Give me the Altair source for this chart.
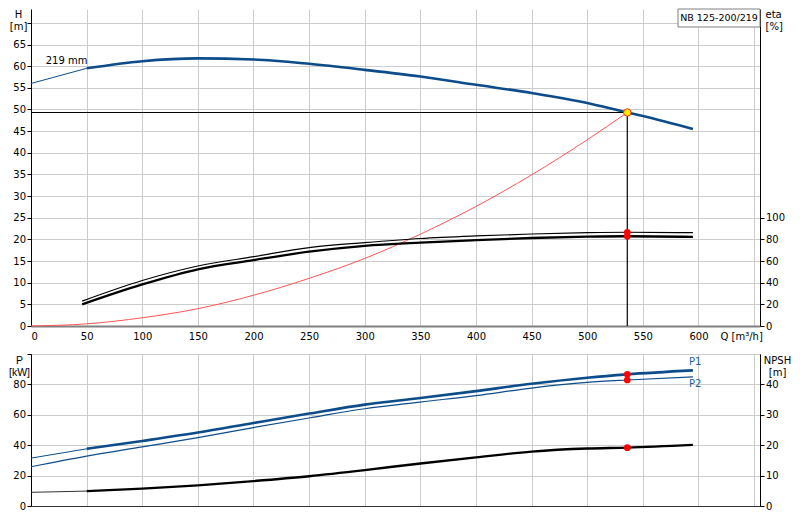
import altair as alt
import pandas as pd

# ---------------- data ----------------
Q_H = [0, 50, 100, 150, 200, 250, 300, 350, 400, 450, 500, 536, 550, 595]
H_VALS = [56.0, 59.5, 61.15, 61.8, 61.55, 60.55, 59.15, 57.6, 55.7, 53.8, 51.5, 49.3, 48.5, 45.5]

Q_SYS = [0, 50, 100, 150, 200, 250, 300, 350, 400, 450, 500, 536]
H_SYS = [0, 0.5, 1.9, 4.0, 7.1, 11.0, 15.6, 21.2, 27.6, 34.9, 43.0, 49.3]

Q_ETA = [46, 100, 150, 200, 250, 300, 350, 400, 450, 500, 536, 595]
ETA_1 = [23.0, 42.0, 55.4, 64.0, 72.4, 77.0, 80.8, 83.2, 85.0, 86.2, 86.6, 86.2]
ETA_2 = [20.0, 38.4, 52.4, 60.8, 68.6, 74.0, 77.0, 79.3, 81.3, 82.5, 82.9, 82.3]

Q_P = [0, 50, 100, 150, 200, 250, 300, 350, 400, 450, 500, 536, 595]
P1 = [31.5, 37.6, 42.8, 48.3, 54.6, 60.8, 66.7, 71.0, 75.6, 80.4, 84.4, 86.6, 89.2]
P2 = [25.8, 32.8, 38.9, 45.0, 51.6, 57.9, 64.0, 68.4, 72.6, 77.6, 81.3, 82.9, 85.0]
NPSH = [4.5, 4.9, 5.7, 6.8, 8.2, 9.8, 11.8, 14.0, 16.0, 17.9, 18.9, 19.2, 20.1]

Q_OP = 536
H_OP = 49.3
ETA_OP = [86.6, 82.9]
P_OP = [86.6, 82.9]
NPSH_OP = 19.2

P_LABELS = ["P1", "P2"]
P_LABEL_Q = [597, 597]
P_LABEL_P = [95.0, 80.5]

CURVE_LABEL = "219 mm"
CURVE_LABEL_Q = 32
CURVE_LABEL_H = 61.3
PUMP_LABEL = "NB 125-200/219"

Q_TICKS = list(range(0, 651, 50))
H_TICKS = list(range(0, 71, 5))
ETA_TICKS = [0, 20, 40, 60, 80, 100]
P_TICKS = [0, 20, 40, 60, 80, 100]
NPSH_TICKS = [0, 10, 20, 30, 40]

Q_DOMAIN = [0, 655.3]
H_DOMAIN = [0, 73.2]
ETA_DOMAIN = [0, 292.8]
P_DOMAIN = [0, 100]
NPSH_DOMAIN = [0, 50]

# ---------------- style ----------------
FONT = "DejaVu Sans"
NARROW = "Liberation Sans"
FS = 10
BLUE = "#0d4c8b"
LBLUE = "#1f5fa0"
GRID = "#cccccc"
W = 729
H_TOP = 317
H_BOT = 152

df_h = pd.DataFrame({"Q": Q_H, "H": H_VALS})
df_sys = pd.DataFrame({"Q": Q_SYS, "H": H_SYS})
df_op = pd.DataFrame({"Q": [Q_OP], "H": [H_OP], "Q0": [0], "H0": [0]})
df_lab = pd.DataFrame({"Q": [CURVE_LABEL_Q], "H": [CURVE_LABEL_H], "t": [CURVE_LABEL]})
df_box = pd.DataFrame({"t": [PUMP_LABEL]})
df_e1 = pd.DataFrame({"Q": Q_ETA, "eta": ETA_1})
df_e2 = pd.DataFrame({"Q": Q_ETA, "eta": ETA_2})
df_eop = pd.DataFrame({"Q": [Q_OP] * len(ETA_OP), "eta": ETA_OP})
df_p1 = pd.DataFrame({"Q": Q_P, "P": P1})
df_p2 = pd.DataFrame({"Q": Q_P, "P": P2})
df_pop = pd.DataFrame({"Q": [Q_OP] * len(P_OP), "P": P_OP})
df_plab = pd.DataFrame({"Q": P_LABEL_Q, "P": P_LABEL_P, "t": P_LABELS})
df_n = pd.DataFrame({"Q": Q_P, "N": NPSH})
df_nop = pd.DataFrame({"Q": [Q_OP], "N": [NPSH_OP]})

qscale = alt.Scale(domain=Q_DOMAIN, nice=False, zero=False)

top_x_axis = alt.Axis(
    values=Q_TICKS, labelExpr="datum.value >= 650 ? '' : datum.label",
    grid=True, gridColor=GRID, ticks=False, labelPadding=10, labelBaseline="middle",
    domainColor="#808080", domainWidth=2,
    title="Q [m³/h]", titleX=689, titleY=10, titleBaseline="middle", titleAlign="left",
)
bot_x_axis = alt.Axis(values=Q_TICKS, labels=False, ticks=False, grid=True,
                      gridColor=GRID, domainColor="#333333", title=None)

h_axis = alt.Axis(
    values=H_TICKS, labelExpr="datum.value >= 70 ? '' : datum.label",
    grid=True, gridColor=GRID, tickSize=4, labelPadding=1.5,
    title=["H", "[m]"], titleAngle=0, titleX=-13, titleY=0,
    titleAlign="center", titleBaseline="top", titleLineHeight=12,
)
eta_axis = alt.Axis(
    orient="right", values=ETA_TICKS, grid=False, tickSize=4, labelPadding=1.5,
    title=["eta", "[%]"], titleAngle=0, titleX=5, titleY=0,
    titleAlign="left", titleBaseline="top", titleLineHeight=12,
)
p_axis = alt.Axis(
    values=P_TICKS, labelExpr="datum.value >= 100 ? '' : datum.label",
    grid=True, gridColor=GRID, tickSize=4, labelPadding=1.5,
    title=["P", "[kW]"], titleAngle=0, titleX=-12, titleY=1, titleFont=NARROW,
    titleFontSize=10.5, titleAlign="center", titleBaseline="top", titleLineHeight=12,
)
n_axis = alt.Axis(
    orient="right", values=NPSH_TICKS, grid=False, tickSize=4, labelPadding=1.5,
    title=["NPSH", "[m]"], titleAngle=0, titleX=17, titleY=1,
    titleAlign="center", titleBaseline="top", titleLineHeight=12,
)

X_TOP = alt.X("Q:Q", scale=qscale, axis=top_x_axis)
X_BOT = alt.X("Q:Q", scale=qscale, axis=bot_x_axis)
Y_H = alt.Y("H:Q", scale=alt.Scale(domain=H_DOMAIN, nice=False), axis=h_axis)
Y_E = alt.Y("eta:Q", scale=alt.Scale(domain=ETA_DOMAIN, nice=False), axis=eta_axis)
Y_P = alt.Y("P:Q", scale=alt.Scale(domain=P_DOMAIN, nice=False), axis=p_axis)
Y_N = alt.Y("N:Q", scale=alt.Scale(domain=NPSH_DOMAIN, nice=False), axis=n_axis)

# ---------------- top panel ----------------
h_thin = alt.Chart(df_h).transform_filter("datum.Q <= 50").mark_line(
    color=BLUE, strokeWidth=1).encode(x=X_TOP, y=Y_H)
h_thick = alt.Chart(df_h).transform_filter("datum.Q >= 50").mark_line(
    color=BLUE, strokeWidth=2.6, interpolate="monotone").encode(x=X_TOP, y=Y_H)
sys_line = alt.Chart(df_sys).mark_line(
    color="#ff5555", strokeWidth=1, interpolate="monotone").encode(x=X_TOP, y=Y_H)
op_h = alt.Chart(df_op).mark_rule(color="black", strokeWidth=1.2).encode(
    x=X_TOP, x2="Q0:Q", y=Y_H)
op_v = alt.Chart(df_op).mark_rule(color="black", strokeWidth=1.2).encode(
    x=X_TOP, y=alt.Y("H0:Q", scale=alt.Scale(domain=H_DOMAIN, nice=False), axis=h_axis), y2="H:Q")
op_pt = alt.Chart(df_op).mark_point(
    filled=True, fill="#ffee00", stroke="#ff3300", strokeWidth=1, size=55, opacity=1
).encode(x=X_TOP, y=Y_H)
lab = alt.Chart(df_lab).mark_text(font=FONT, fontSize=FS, color="black").encode(
    x=X_TOP, y=Y_H, text="t:N")
box = alt.Chart(df_box).mark_rect(fill="white", stroke="#808080", strokeWidth=1).encode(
    x=alt.value(W - 82), x2=alt.value(W), y=alt.value(0), y2=alt.value(18))
box_t = alt.Chart(df_box).mark_text(font=FONT, fontSize=9.5, color="black").encode(
    x=alt.value(W - 41), y=alt.value(9), text="t:N")

h_group = alt.layer(h_thin, h_thick, sys_line, op_h, op_v, op_pt, lab, box, box_t)

e1_line = alt.Chart(df_e1).mark_line(color="black", strokeWidth=1.2, interpolate="monotone").encode(x=X_TOP, y=Y_E)
e2_line = alt.Chart(df_e2).mark_line(color="black", strokeWidth=2.3, interpolate="monotone").encode(x=X_TOP, y=Y_E)
e_dots = alt.Chart(df_eop).mark_circle(color="#ff0000", size=45, opacity=1).encode(x=X_TOP, y=Y_E)
eta_group = alt.layer(e1_line, e2_line, e_dots)

top = alt.layer(h_group, eta_group).resolve_scale(y="independent").properties(
    width=W, height=H_TOP, view=alt.ViewBackground(stroke="transparent"))

# ---------------- bottom panel ----------------
p1_thin = alt.Chart(df_p1).transform_filter("datum.Q <= 50").mark_line(
    color=BLUE, strokeWidth=1).encode(x=X_BOT, y=Y_P)
p1_thick = alt.Chart(df_p1).transform_filter("datum.Q >= 50").mark_line(
    color=BLUE, strokeWidth=2.6, interpolate="monotone").encode(x=X_BOT, y=Y_P)
p2_line = alt.Chart(df_p2).mark_line(color=BLUE, strokeWidth=1.2, interpolate="monotone").encode(x=X_BOT, y=Y_P)
p_dots = alt.Chart(df_pop).mark_circle(color="#ff0000", size=45, opacity=1).encode(x=X_BOT, y=Y_P)
p_lab = alt.Chart(df_plab).mark_text(font=FONT, fontSize=FS, color=LBLUE).encode(
    x=X_BOT, y=Y_P, text="t:N")
p_group = alt.layer(p1_thin, p2_line, p1_thick, p_dots, p_lab)

n_thin = alt.Chart(df_n).transform_filter("datum.Q <= 50").mark_line(
    color="#333333", strokeWidth=1).encode(x=X_BOT, y=Y_N)
n_thick = alt.Chart(df_n).transform_filter("datum.Q >= 50").mark_line(
    color="black", strokeWidth=2.4, interpolate="monotone").encode(x=X_BOT, y=Y_N)
n_dot = alt.Chart(df_nop).mark_circle(color="#ff0000", size=45, opacity=1).encode(x=X_BOT, y=Y_N)
n_group = alt.layer(n_thin, n_thick, n_dot)

bottom = alt.layer(p_group, n_group).resolve_scale(y="independent").properties(
    width=W, height=H_BOT, view=alt.ViewBackground(stroke="#404040", strokeWidth=1))

chart = alt.vconcat(top, bottom, spacing=11).properties(
    padding={"left": 0, "top": 0, "right": 0, "bottom": 0}
).configure_axis(
    labelFont=FONT, labelFontSize=FS, labelColor="black",
    titleFont=FONT, titleFontSize=FS, titleFontWeight="normal", titleColor="black",
    domainColor="black", tickColor="black",
).configure_view(stroke="transparent")

chart.save("out.html", embed_options={"renderer": "svg", "actions": False})
